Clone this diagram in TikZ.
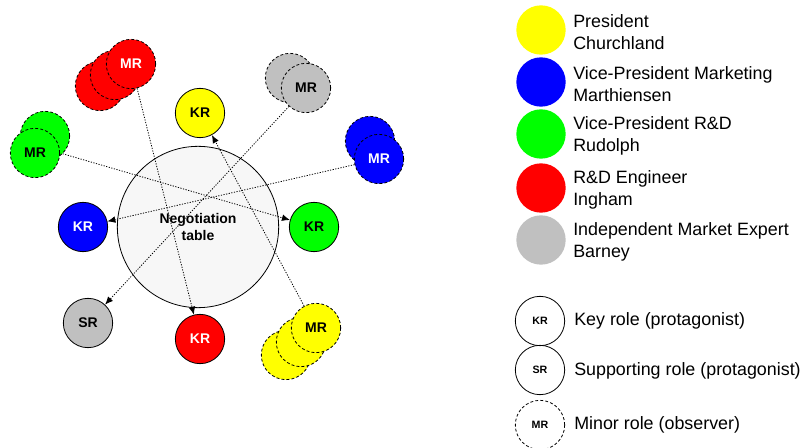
\documentclass[tikz,border=0pt]{standalone}
\usepackage{fontspec}
\setmainfont{Liberation Sans}
\usetikzlibrary{arrows.meta}
\pgfdeclarelayer{tablelayer}
\pgfdeclarelayer{linklayer}
\pgfsetlayers{tablelayer,linklayer,main}

\definecolor{cyellow}{HTML}{FFFF00}
\definecolor{cblue}{HTML}{0000FF}
\definecolor{cgreen}{HTML}{00FF00}
\definecolor{cred}{HTML}{FF0000}
\definecolor{cgray}{HTML}{C0C0C0}
\definecolor{tablefill}{HTML}{F7F7F7}

\begin{document}
\begin{tikzpicture}[x=0.75pt,y=-0.75pt,
  role/.style={circle,draw=black,line width=0.6pt,minimum size=37pt,inner sep=0pt,
    font=\fontsize{10.5}{12}\selectfont\bfseries},
  minor/.style={role,dash pattern=on 2.2pt off 1.6pt},
  link/.style={line width=0.6pt,dash pattern=on 0.9pt off 1.1pt,
    -{Latex[length=6pt,width=5pt]}},
  swatch/.style={circle,minimum size=37pt,inner sep=0pt},
  legtext/.style={anchor=west,align=left,inner sep=0pt,
    font=\fontsize{13.4}{16}\selectfont},
  legrole/.style={role,font=\fontsize{8}{9}\selectfont\bfseries}
]
\useasboundingbox (0,0) rectangle (812,448);

% negotiation table
\begin{pgfonlayer}{tablelayer}
\node[circle,draw=black,line width=0.6pt,fill=tablefill,minimum size=121pt,inner sep=0pt,
  align=center,font=\fontsize{10.5}{12.5}\selectfont\bfseries] (table) at (198,227) {Negotiation\\table};
\end{pgfonlayer}

% key and supporting roles
\node[role,fill=cyellow] (kyellow) at (200,113) {KR};
\node[role,fill=cblue,text=white] (kblue) at (83,227) {KR};
\node[role,fill=cgreen] (kgreen) at (314,227) {KR};
\node[role,fill=cred,text=white] (kred) at (200,339) {KR};
\node[role,fill=cgray] (sgray) at (88,323) {SR};

% minor roles (observers), stacked
\node[minor,fill=cred] (mred3) at (100,86) {};
\node[minor,fill=cred] (mred2) at (115,75) {};
\node[minor,fill=cred,text=white] (mred) at (131,64) {MR};

\node[minor,fill=cgray] (mgray2) at (290,78) {};
\node[minor,fill=cgray] (mgray) at (306,88) {MR};

\node[minor,fill=cgreen] (mgreen2) at (45,136) {};
\node[minor,fill=cgreen] (mgreen) at (35,153) {MR};

\node[minor,fill=cblue] (mblue2) at (370,141) {};
\node[minor,fill=cblue,text=white] (mblue) at (379,159) {MR};

\node[minor,fill=cyellow] (myellow3) at (286,355) {};
\node[minor,fill=cyellow] (myellow2) at (301,342) {};
\node[minor,fill=cyellow] (myellow) at (316,328) {MR};

% observers watching their counterparts
\begin{pgfonlayer}{linklayer}
\draw[link] (mred) -- (kred);
\draw[link] (mgray) -- (sgray);
\draw[link] (mgreen.east) -- (kgreen);
\draw[link] (mblue) -- (kblue);
\draw[link] (myellow) -- (kyellow);
\end{pgfonlayer}

% legend: persons
\node[swatch,fill=cyellow] (lyellow) at (541,30) {};
\node[swatch,fill=cblue] (lblue) at (541,82) {};
\node[swatch,fill=cgreen] (lgreen) at (541,134) {};
\node[swatch,fill=cred] (lred) at (541,188) {};
\node[swatch,fill=cgray] (lgray) at (541,240) {};
\node[legtext] (tyellow) at (573,32) {President\\Churchland};
\node[legtext] (tblue) at (573,84) {Vice-President Marketing\\Marthiensen};
\node[legtext] (tgreen) at (573,136) {Vice-President R\&D\\Rudolph};
\node[legtext] (tred) at (573,190) {R\&D Engineer\\Ingham};
\node[legtext] (tgray) at (573,242) {Independent Market Expert\\Barney};

% legend: roles
\node[legrole] (lkr) at (540,321) {KR};
\node[legrole] (lsr) at (540,370) {SR};
\node[legrole,dash pattern=on 2.2pt off 1.6pt] (lmr) at (540,425) {MR};
\node[legtext] (tkr) at (574,321) {Key role (protagonist)};
\node[legtext] (tsr) at (574,371) {Supporting role (protagonist)};
\node[legtext] (tmr) at (574,425) {Minor role (observer)};
\end{tikzpicture}
\end{document}
